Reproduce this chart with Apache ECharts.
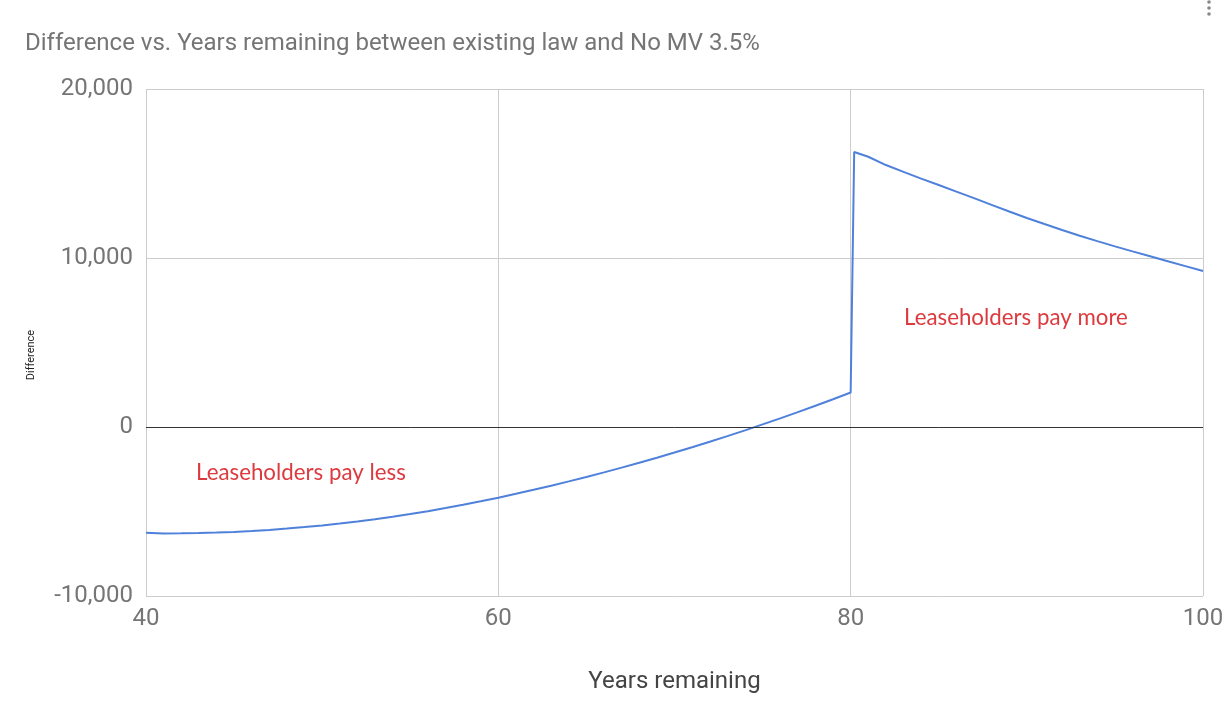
<!DOCTYPE html>
<html>
<head>
<meta charset="utf-8">
<title>Difference vs. Years remaining</title>
<script src="https://cdn.jsdelivr.net/npm/echarts@6/dist/echarts.min.js"></script>
<style>
  html, body { margin: 0; padding: 0; background: #fff; }
  #main { width: 1230px; height: 719px; }
</style>
</head>
<body>
<div id="main"></div>
<script>
// years remaining on the lease (x) and the difference (y)
var years = [40, 41, 42, 43, 44, 45, 46, 47, 48, 49, 50, 51, 52, 53, 54, 55, 56, 57, 58, 59,
  60, 61, 62, 63, 64, 65, 66, 67, 68, 69, 70, 71, 72, 73, 74, 75, 76, 77, 78, 79, 80,
  80.2, 81, 82, 83, 84, 85, 86, 87, 88, 89, 90, 91, 92, 93, 94, 95, 96, 97, 98, 99, 100];
var difference = [-6260, -6300, -6294, -6277, -6247, -6206, -6153, -6089, -6012, -5924, -5825, -5713, -5590, -5455, -5308, -5150, -4979, -4797, -4604, -4398,
  -4181, -3954, -3717, -3472, -3219, -2956, -2685, -2404, -2115, -1818, -1511, -1196, -871, -538, -197, 154, 513, 882, 1259, 1644, 2039,
  16270, 15990, 15500, 15100, 14700, 14320, 13930, 13540, 13140, 12750, 12370, 12010, 11660, 11320, 11000, 10690, 10390, 10100, 9810, 9520, 9230];
var xTicks = [40, 60, 80, 100];
var yTicks = [-10000, 0, 10000, 20000];

var points = years.map(function (y, i) { return [y, difference[i]]; });

var chart = echarts.init(document.getElementById('main'));
chart.setOption({
  backgroundColor: '#fff',
  animation: false,
  title: {
    text: 'Difference vs. Years remaining between existing law and No MV 3.5%',
    left: 20,
    top: 27,
    textStyle: { fontFamily: 'Roboto', fontSize: 24, fontWeight: 'normal', color: '#757575' }
  },
  grid: { left: 146, right: 27, top: 89, bottom: 123, containLabel: false },
  xAxis: {
    type: 'value',
    min: xTicks[0],
    max: xTicks[xTicks.length - 1],
    interval: 20,
    name: 'Years remaining',
    nameLocation: 'middle',
    nameGap: 74,
    nameTextStyle: { fontFamily: 'Roboto', fontSize: 24, color: '#444' },
    axisLine: { show: false },
    axisTick: { show: false },
    axisLabel: { fontFamily: 'Roboto', fontSize: 24, color: '#757575', margin: 11 },
    splitLine: { show: true, lineStyle: { color: '#cccccc', width: 1 } }
  },
  yAxis: {
    type: 'value',
    min: yTicks[0],
    max: yTicks[yTicks.length - 1],
    interval: 10000,
    axisLine: { show: false },
    axisTick: { show: false },
    axisLabel: {
      fontFamily: 'Roboto', fontSize: 24, color: '#757575', margin: 13,
      formatter: function (v) { return v.toLocaleString('en-US'); }
    },
    splitLine: { show: true, lineStyle: { color: '#cccccc', width: 1 } }
  },
  series: [{
    type: 'line',
    data: points,
    showSymbol: false,
    smooth: false,
    lineStyle: { color: '#4f81db', width: 2 },
    itemStyle: { color: '#4f81db' },
    markLine: {
      silent: true,
      symbol: 'none',
      label: { show: false },
      lineStyle: { color: '#333', width: 1, type: 'solid' },
      data: [{ yAxis: 0 }]
    },
    z: 3
  }],
  graphic: [
    {
      // y axis title, rotated
      type: 'text', x: 31, y: 355, rotation: Math.PI / 2,
      style: { text: 'Difference', fontFamily: 'Roboto', fontSize: 11, fill: '#222', align: 'center', verticalAlign: 'middle' }
    },
    {
      type: 'text', left: 196, top: 462,
      style: { text: 'Leaseholders pay less', fontFamily: 'Lato', fontSize: 22.3, fill: '#dc3a3f' }
    },
    {
      type: 'text', left: 904, top: 307,
      style: { text: 'Leaseholders pay more', fontFamily: 'Lato', fontSize: 22.3, fill: '#dc3a3f' }
    },
    { type: 'circle', shape: { cx: 1209, cy: 2, r: 1.8 }, style: { fill: '#888' } },
    { type: 'circle', shape: { cx: 1209, cy: 8, r: 1.8 }, style: { fill: '#888' } },
    { type: 'circle', shape: { cx: 1209, cy: 14, r: 1.8 }, style: { fill: '#888' } }
  ]
});
</script>
</body>
</html>
